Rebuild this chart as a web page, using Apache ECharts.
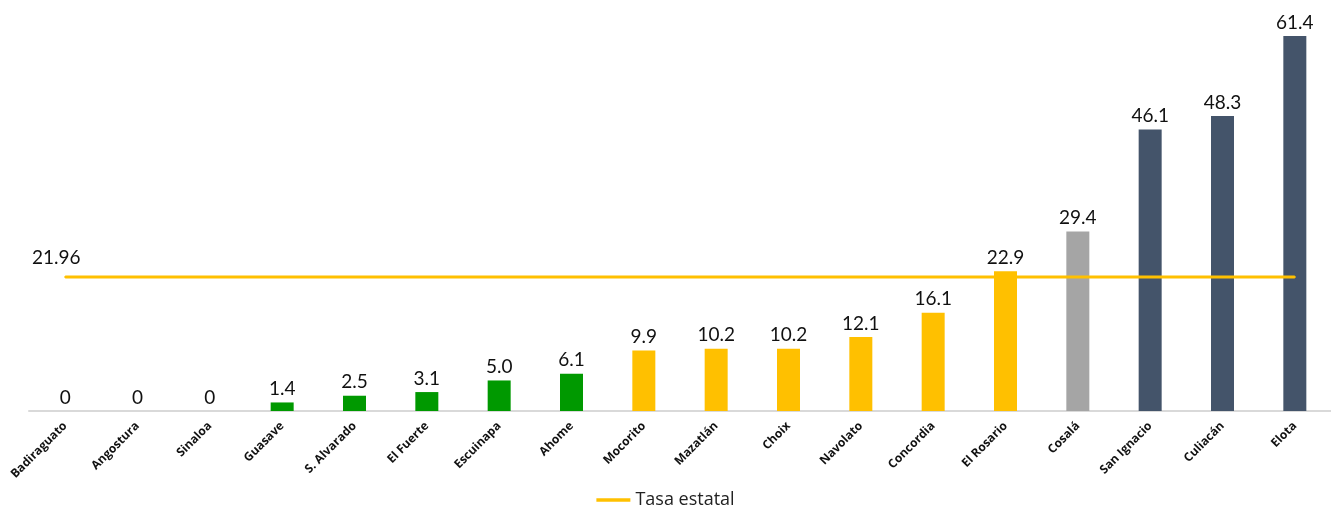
<!DOCTYPE html>
<html>
<head>
<meta charset="utf-8">
<script src="https://cdn.jsdelivr.net/npm/echarts@6/dist/echarts.min.js"></script>
<style>html,body{margin:0;padding:0;background:#fff}#c{width:1331px;height:516px}</style>
</head>
<body>
<div id="c"></div>
<script>
var categories = ['Badiraguato','Angostura','Sinaloa','Guasave','S. Alvarado','El Fuerte','Escuinapa','Ahome','Mocorito','Mazatlán','Choix','Navolato','Concordia','El Rosario','Cosalá','San Ignacio','Culiacán','Elota'];
var values = [0, 0, 0, 1.4, 2.5, 3.1, 5.0, 6.1, 9.9, 10.2, 10.2, 12.1, 16.1, 22.9, 29.4, 46.1, 48.3, 61.4];
var groups = ['none','none','none','low','low','low','low','low','mid','mid','mid','mid','mid','mid','gray','high','high','high'];
var stateRate = 21.96;
var stateLabel = 'Tasa estatal';

var groupColors = {none:'#009900', low:'#009900', mid:'#FFC000', gray:'#A5A5A5', high:'#44546A'};

var chart = echarts.init(document.getElementById('c'), null, {renderer:'canvas'});
var barData = values.map(function(v,i){
  return {value:v, itemStyle:{color:groupColors[groups[i]]}};
});
var lineData = categories.map(function(c,i){
  return i===0 ? {value:stateRate, label:{show:true}} : {value:stateRate};
});

chart.setOption({
  animation:false,
  textStyle:{fontFamily:'Open Sans'},
  grid:{left:29, right:0, top:14, bottom:105, containLabel:false},
  legend:{
    data:[{name:stateLabel, icon:'path://M0,0 L40,0 L40,4 L0,4 Z', itemStyle:{color:'#FFC000', opacity:1}}],
    bottom:2, left:'center',
    itemWidth:34, itemHeight:4, itemGap:3,
    textStyle:{fontSize:18, color:'#222', fontFamily:'Open Sans'}
  },
  xAxis:{
    type:'category', data:categories,
    axisLine:{show:true, lineStyle:{color:'#D9D9D9', width:2}},
    axisTick:{show:false},
    axisLabel:{rotate:45, interval:0, fontSize:12, fontWeight:'bold', color:'#111', margin:13, fontFamily:'Open Sans'}
  },
  yAxis:{
    type:'value', min:0, max:65, show:false,
    splitLine:{show:false}
  },
  series:[
    {
      type:'bar', data:barData, barWidth:23, z:2,
      label:{show:true, position:'top', distance:4, fontSize:19, color:'#111', fontFamily:'Lato',
        formatter:function(p){ return p.value===0 ? '0' : p.value.toFixed(1); }}
    },
    {
      name:stateLabel, type:'line', data:lineData, symbol:'circle', symbolSize:2, showSymbol:true, z:3,
      lineStyle:{color:'#FFC000', width:3},
      itemStyle:{color:'#FFC000'},
      label:{show:false, position:'top', distance:9, offset:[-9,0], fontSize:19, color:'#111', fontFamily:'Lato',
        formatter:function(p){ return stateRate.toFixed(2); }}
    }
  ]
});
</script>
</body>
</html>
